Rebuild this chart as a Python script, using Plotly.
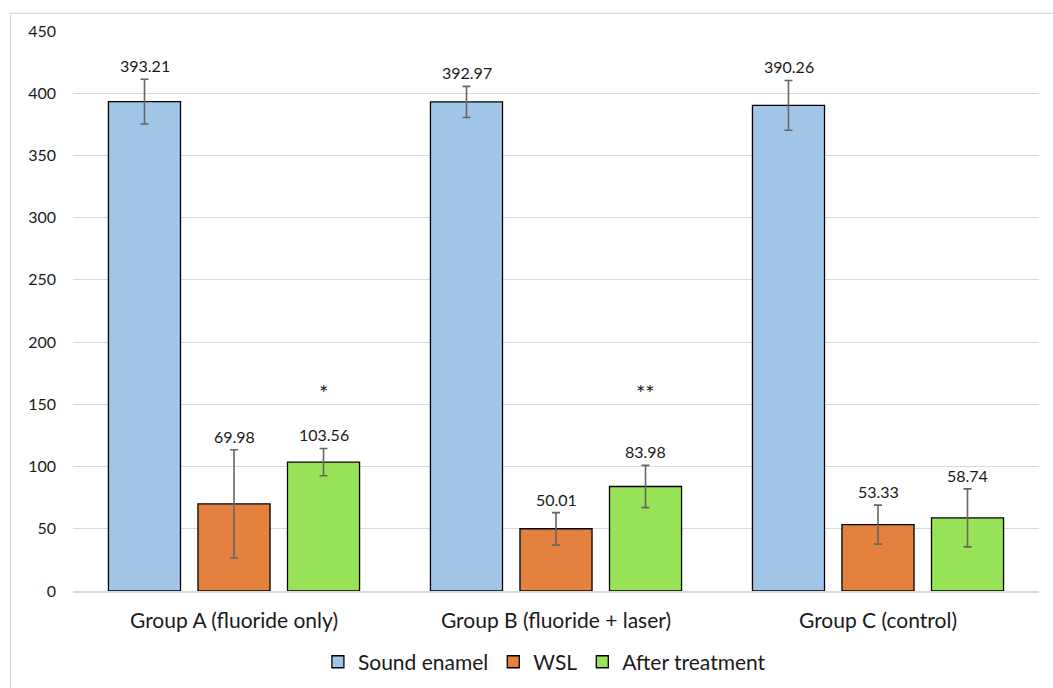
import plotly.graph_objects as go

categories = ["Group A (fluoride only)", "Group B (fluoride + laser)", "Group C (control)"]
series_names = ["Sound enamel", "WSL", "After treatment"]
sound_enamel = [393.21, 392.97, 390.26]
sound_enamel_sd = [18.0, 12.5, 20.0]
wsl = [69.98, 50.01, 53.33]
wsl_sd = [43.5, 13.0, 15.7]
after_treatment = [103.56, 83.98, 58.74]
after_treatment_sd = [11.0, 17.0, 23.3]
significance = ["*", "**", ""]
significance_y = 147
y_ticks = [0, 50, 100, 150, 200, 250, 300, 350, 400, 450]

colors = ["#A0C5E7", "#E5813F", "#98E257"]
FONT = "Lato"

values = [sound_enamel, wsl, after_treatment]
sds = [sound_enamel_sd, wsl_sd, after_treatment_sd]

fig = go.Figure()
for name, vals, sd, col in zip(series_names, values, sds, colors):
    fig.add_trace(go.Bar(
        name=name, x=categories, y=vals,
        marker=dict(color=col, line=dict(color="#000000", width=1.3)),
        error_y=dict(type="data", array=sd, visible=True, color="#666666",
                     thickness=1.6, width=4),
    ))

slot_px = 89.5
offsets = [-slot_px, 0, slot_px]
annotations = []
for i, (vals, sd) in enumerate(zip(values, sds)):
    for j, cat in enumerate(categories):
        annotations.append(dict(
            x=cat, y=vals[j] + sd[j], xref="x", yref="y",
            text=f"{vals[j]:.2f}", showarrow=False,
            xshift=offsets[i], yshift=2, yanchor="bottom",
            font=dict(family=FONT, size=16, color="#1a1a1a"),
        ))
for j, cat in enumerate(categories):
    if significance[j]:
        annotations.append(dict(
            x=cat, y=significance_y, xref="x", yref="y",
            text=significance[j], showarrow=False,
            xshift=offsets[2], yanchor="bottom",
            font=dict(family=FONT, size=22, color="#1a1a1a"),
        ))

fig.update_layout(
    width=1053, height=688,
    margin=dict(l=73, r=14, t=31, b=97, autoexpand=False),
    paper_bgcolor="white", plot_bgcolor="white",
    barmode="group", bargap=0.166, bargroupgap=0.195,
    font=dict(family=FONT, color="#1a1a1a"),
    showlegend=True,
    legend=dict(orientation="h", x=0.488, xanchor="center", y=-0.127, yanchor="middle",
                font=dict(family=FONT, size=21, color="#1a1a1a"),
                itemwidth=30, traceorder="normal"),
    annotations=annotations,
    shapes=[dict(type="rect", xref="paper", yref="paper",
                 x0=-0.0647, x1=1.2, y0=-0.3, y1=1.0316,
                 line=dict(color="#d9d9d9", width=1.2), fillcolor="rgba(0,0,0,0)",
                 layer="below")],
)
fig.update_xaxes(
    showgrid=False, showline=True, linecolor="#d9d9d9", linewidth=1.5,
    tickfont=dict(family=FONT, size=21, color="#1a1a1a"), ticks="",
    ticklabelstandoff=10, automargin=False,
)
fig.update_yaxes(
    range=[0, 450], tickvals=y_ticks, showgrid=True, gridcolor="#d9d9d9", gridwidth=1.2,
    zeroline=False, showline=False, ticks="",
    tickfont=dict(family=FONT, size=16, color="#1a1a1a"),
    ticklabelstandoff=16, automargin=False,
)

fig.write_html("out.html", config={"displayModeBar": False},
               post_script="document.body.style.margin='0';")
